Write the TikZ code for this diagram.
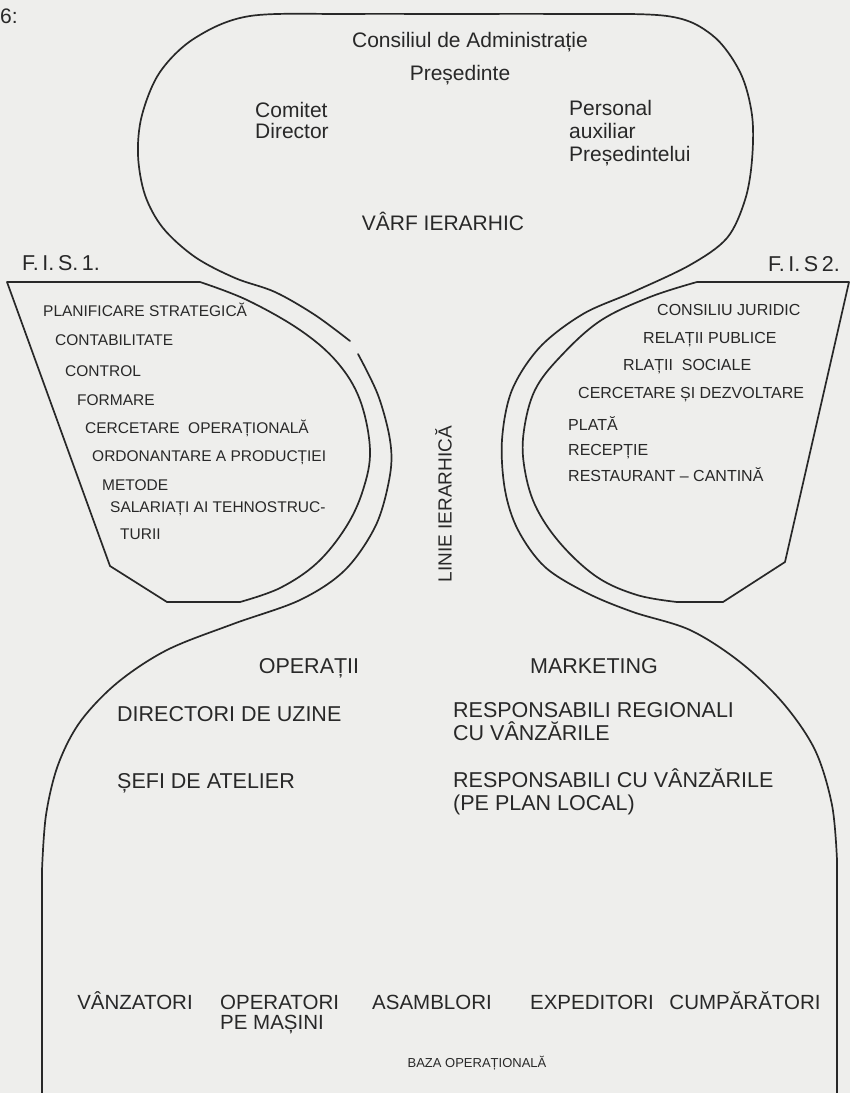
\documentclass[tikz,border=0pt]{standalone}
\usepackage{fontspec}
\setmainfont{Liberation Sans}
\definecolor{paper}{RGB}{238,238,236}
\definecolor{ink}{RGB}{40,40,40}
\tikzset{
  outline/.style={draw=ink, line width=1.7pt, line join=round, line cap=round},
  lbl/.style={inner sep=0pt, text height=0.72em, text depth=0pt, text=ink},
  topt/.style={lbl, font=\fontsize{21}{21}\selectfont},
  fisa/.style={lbl, font=\fontsize{15.5}{15.5}\selectfont},
  fisb/.style={lbl, font=\fontsize{16}{16}\selectfont},
  bigt/.style={lbl, font=\fontsize{21.5}{21.5}\selectfont},
  rowt/.style={lbl, font=\fontsize{20.5}{20.5}\selectfont},
  vertt/.style={lbl, font=\fontsize{19}{19}\selectfont},
  smallt/.style={lbl, font=\fontsize{13}{13}\selectfont},
}
\begin{document}
\begin{tikzpicture}[x=1pt,y=-1pt]
\useasboundingbox (0,0) rectangle (850,1093);
\fill[paper] (0,0) rectangle (850,1093);

% outer outline: lower left part up to the small gap
\draw[outline] (42,1093) -- plot[smooth, tension=0.55] coordinates {
  (42,870) (46,815) (58,765) (80,722) (117,683) (167,650) (233,624)
  (300,600) (345,570) (376,525) (390,475) (390,440) (378,395) (358,354)};
% outer outline: from the gap round the top to the lower right part
\draw[outline] plot[smooth, tension=0.55] coordinates {
  (350,341) (315,315) (275,292) (235,278) (195,257) (163,228) (145,195)
  (138,155) (142,115) (160,72) (195,38) (250,16) (350,14) (450,14)
  (560,14) (667,16) (712,35) (740,72) (752,115) (752,160) (745,200)
  (727,238) (690,265) (633,292) (583,314) (540,347) (512,390) (502,440)
  (505,490) (518,530) (545,567) (587,593) (633,612) (690,630) (740,662)
  (783,703) (815,750) (832,805) (837,860)} -- (837,1093);

% F.I.S.1 teardrop
\draw[outline] (7,282) -- plot[smooth, tension=0.6] coordinates {
  (200,282) (247,300) (300,330) (337,362) (360,400) (370,450) (363,490)
  (346,527) (317,563) (280,588) (240,602)} -- (167,602) -- (110,566) -- cycle;
% F.I.S.2 teardrop
\draw[outline] (849,282) -- plot[smooth, tension=0.6] coordinates {
  (697,282) (650,297) (600,321) (560,357) (535,390) (524,430) (524,465)
  (535,505) (560,543) (597,577) (637,595) (677,602)} -- (723,602) -- (785,562) -- cycle;

% fragment of preceding text
\node[topt, anchor=west] (six) at (0,20) {6:};

% top (apex)
\node[topt] (consiliu) at (470,44) {Consiliul de Administrație};
\node[topt] (presed) at (460,77) {Președinte};
\node[topt, anchor=west] (comitet) at (255,114) {Comitet};
\node[topt, anchor=west] (director) at (255,135) {Director};
\node[topt, anchor=west] (personal) at (569,112) {Personal};
\node[topt, anchor=west] (auxiliar) at (569,135) {auxiliar};
\node[topt, anchor=west] (presedtl) at (569,158) {Președintelui};
\node[topt] (varf) at (443,227) {VÂRF IERARHIC};

% labels of the two side shapes
\node[bigt, anchor=west] (fis1) at (22,267) {F.\,I.\,S.\,1.};
\node[bigt, anchor=east] (fis2) at (840,268) {F.\,I.\,S\,2.};

% F.I.S.1 contents
\node[fisa, anchor=west] (a1) at (43,313) {PLANIFICARE STRATEGICĂ};
\node[fisa, anchor=west] (a2) at (55,342) {CONTABILITATE};
\node[fisa, anchor=west] (a3) at (65,373) {CONTROL};
\node[fisa, anchor=west] (a4) at (77,402) {FORMARE};
\node[fisa, anchor=west] (a5) at (85,430) {CERCETARE\ \ OPERAȚIONALĂ};
\node[fisa, anchor=west] (a6) at (92,458) {ORDONANTARE A PRODUCȚIEI};
\node[fisa, anchor=west] (a7) at (102,487) {METODE};
\node[fisa, anchor=west] (a8) at (110,509) {SALARIAȚI AI TEHNOSTRUC-};
\node[fisa, anchor=west] (a9) at (120,536) {TURII};

% F.I.S.2 contents
\node[fisb, anchor=west] (b1) at (657,312) {CONSILIU JURIDIC};
\node[fisb, anchor=west] (b2) at (643,340) {RELAȚII PUBLICE};
\node[fisb, anchor=west] (b3) at (623,367) {RLAȚII\ \ SOCIALE};
\node[fisb, anchor=west] (b4) at (578,395) {CERCETARE ȘI DEZVOLTARE};
\node[fisb, anchor=west] (b5) at (568,427) {PLATĂ};
\node[fisb, anchor=west] (b6) at (568,452) {RECEPȚIE};
\node[fisb, anchor=west] (b7) at (568,478) {RESTAURANT – CANTINĂ};

% middle line
\node[vertt, rotate=90] (linie) at (448,504) {LINIE IERARHICĂ};

% lower part
\node[bigt] (oper) at (309,670) {OPERAȚII};
\node[bigt] (mark) at (594,670) {MARKETING};
\node[bigt, anchor=west] (dir) at (117,718) {DIRECTORI DE UZINE};
\node[bigt, anchor=west] (sefi) at (117,785) {ȘEFI DE ATELIER};
\node[bigt, anchor=west] (rr1) at (453,714) {RESPONSABILI REGIONALI};
\node[bigt, anchor=west] (rr2) at (453,737) {CU VÂNZĂRILE};
\node[bigt, anchor=west] (rl1) at (453,784) {RESPONSABILI CU VÂNZĂRILE};
\node[bigt, anchor=west] (rl2) at (453,807) {(PE PLAN LOCAL)};

% operating core
\node[rowt] (vanz) at (135,1006) {VÂNZATORI};
\node[rowt, anchor=west] (opm1) at (220,1006) {OPERATORI};
\node[rowt, anchor=west] (opm2) at (220,1026) {PE MAȘINI};
\node[rowt] (asam) at (432,1006) {ASAMBLORI};
\node[rowt] (exped) at (592,1006) {EXPEDITORI};
\node[rowt] (cump) at (745,1006) {CUMPĂRĂTORI};
\node[smallt] (baza) at (477,1064) {BAZA OPERAȚIONALĂ};
\end{tikzpicture}
\end{document}
